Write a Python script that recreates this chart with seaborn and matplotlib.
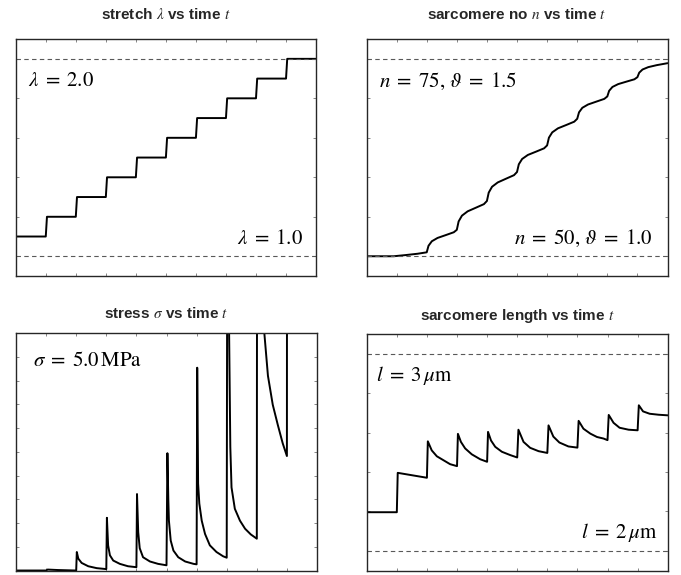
import matplotlib
matplotlib.use("Agg")
import matplotlib.pyplot as plt
import seaborn as sns

# stretch lambda vs time (stair steps)
stretch_t = [0, 0, 1.0, 1.04, 2.0, 2.04, 3.0, 3.04, 4.0, 4.04, 5.0, 5.04,
             6.0, 6.04, 7.0, 7.04, 8.0, 8.04, 9.0, 9.04, 10.0]
stretch_val = [1.05, 1.1, 1.1, 1.2, 1.2, 1.3, 1.3, 1.4, 1.4, 1.5, 1.5, 1.6,
               1.6, 1.7, 1.7, 1.8, 1.8, 1.9, 1.9, 2.0, 2.0]

# sarcomere number n vs time
sarc_no_t = [0, 0.9, 1.3, 1.7, 2.0,
             2.06, 2.17, 2.36, 2.64, 2.9, 3.0,
             3.06, 3.17, 3.36, 3.64, 3.9, 4.0,
             4.06, 4.17, 4.36, 4.64, 4.9, 5.0,
             5.06, 5.17, 5.36, 5.64, 5.9, 6.0,
             6.06, 6.17, 6.36, 6.64, 6.9, 7.0,
             7.06, 7.17, 7.36, 7.64, 7.9, 8.0,
             8.06, 8.17, 8.36, 8.64, 8.9, 9.0,
             9.06, 9.17, 9.36, 9.64, 9.9, 10.0]
sarc_no_val = [50.0, 50.0, 50.15, 50.32, 50.5,
               51.33, 51.9, 52.32, 52.69, 53.04, 53.35,
               54.41, 55.14, 55.69, 56.16, 56.6, 57.0,
               58.06, 58.8, 59.35, 59.83, 60.27, 60.67,
               61.65, 62.32, 62.83, 63.26, 63.67, 64.04,
               65.02, 65.69, 66.2, 66.63, 67.04, 67.41,
               68.23, 68.8, 69.22, 69.59, 69.93, 70.24,
               70.95, 71.44, 71.8, 72.12, 72.41, 72.68,
               73.25, 73.65, 73.95, 74.2, 74.38, 74.45]

# stress sigma (MPa) vs time, values above 5 run off the top
stress_t = [0, 1.0, 1.05, 1.4, 2.0,
            2.02, 2.07, 2.18, 2.4, 2.68,
            3.0, 3.02, 3.06, 3.12, 3.23, 3.45, 3.72,
            4.0, 4.02, 4.06, 4.11, 4.22, 4.45, 4.72,
            5.0, 5.03, 5.06, 5.08, 5.14, 5.23, 5.39, 5.62, 5.9,
            6.0, 6.02, 6.05, 6.09, 6.17, 6.28, 6.44, 6.66, 6.88,
            7.0, 7.02, 7.08, 7.12, 7.16, 7.27, 7.44, 7.61, 7.8,
            8.0, 8.02, 8.12, 8.25, 8.37, 8.53, 8.7, 8.86,
            9.0, 9.02, 9.3, 9.6, 10.0]
stress_val = [0.0, 0.0, 0.02, 0.01, 0.0,
              0.39, 0.25, 0.16, 0.09, 0.05,
              0.03, 1.11, 0.53, 0.32, 0.21, 0.14, 0.09,
              0.07, 1.61, 0.81, 0.47, 0.28, 0.19, 0.14,
              0.11, 2.47, 1.5, 1.05, 0.63, 0.42, 0.28, 0.19, 0.14,
              0.13, 4.27, 1.83, 1.41, 1.05, 0.77, 0.53, 0.39, 0.30,
              0.27, 8.0, 5.0, 2.6, 1.75, 1.3, 1.05, 0.88, 0.76,
              0.67, 16.0, 8.0, 5.0, 4.1, 3.49, 3.06, 2.68,
              2.41, 30.0, 16.0, 12.0, 10.0]

# sarcomere length (um) vs time
sarc_len_t = [0, 0, 1.0, 1.03, 2.0,
              2.03, 2.16, 2.33, 2.55, 2.77, 3.0,
              3.03, 3.13, 3.27, 3.49, 3.77, 4.0,
              4.03, 4.13, 4.27, 4.49, 4.77, 5.0,
              5.04, 5.21, 5.43, 5.71, 6.0,
              6.04, 6.2, 6.4, 6.7, 7.0,
              7.04, 7.2, 7.43, 7.65, 7.87, 8.0,
              8.04, 8.2, 8.4, 8.7, 9.0,
              9.04, 9.18, 9.4, 9.7, 10.0]
sarc_len_val = [2.06, 2.196, 2.196, 2.396, 2.371,
                2.556, 2.51, 2.48, 2.46, 2.44, 2.43,
                2.594, 2.553, 2.52, 2.49, 2.465, 2.452,
                2.604, 2.56, 2.528, 2.503, 2.486, 2.474,
                2.615, 2.553, 2.523, 2.506, 2.497,
                2.637, 2.58, 2.55, 2.53, 2.524,
                2.66, 2.62, 2.595, 2.578, 2.57, 2.562,
                2.69, 2.65, 2.625, 2.615, 2.612,
                2.739, 2.708, 2.696, 2.691, 2.688]

sns.set_theme(style="white")
plt.rcParams["font.family"] = ["Liberation Sans", "DejaVu Sans"]
plt.rcParams["mathtext.fontset"] = "stix"

fig = plt.figure(figsize=(6.81, 5.75), dpi=100)
ax_tl = fig.add_axes([0.0231, 0.520, 0.441, 0.412])
ax_tr = fig.add_axes([0.5382, 0.520, 0.442, 0.412])
ax_bl = fig.add_axes([0.0235, 0.0078, 0.442, 0.413])
ax_br = fig.add_axes([0.5385, 0.0078, 0.442, 0.411])


def style_axes(ax, ylim, yticks, title, pad):
    ax.set_xlim(0, 10)
    ax.set_ylim(*ylim)
    ax.set_xticks(range(0, 11))
    ax.set_yticks(yticks)
    ax.tick_params(direction="in", top=True, right=True, bottom=True, left=True,
                   labelbottom=False, labelleft=False, length=2.5, width=0.6,
                   color="0.45")
    for sp in ax.spines.values():
        sp.set_color("0.15")
        sp.set_linewidth(1.0)
    ax.set_xlabel("")
    ax.set_ylabel("")
    ax.set_title(title, fontsize=11, fontweight="bold", pad=pad)


line_kw = dict(color="black", linewidth=1.4, estimator=None, sort=False, legend=False)
dash_kw = dict(color="0.35", linewidth=0.8, linestyle=(0, (4, 3)))
txt_kw = dict(fontsize=15, color="black")

# top left: stretch
sns.lineplot(x=stretch_t, y=stretch_val, ax=ax_tl, **line_kw)
ax_tl.axhline(2.0, **dash_kw)
ax_tl.axhline(1.0, **dash_kw)
style_axes(ax_tl, (0.9, 2.1), [1.0, 1.2, 1.4, 1.6, 1.8, 2.0],
           r"stretch $\lambda$ vs time $t$", 14.5)
ax_tl.text(0.04, 0.827, r"$\lambda\; =\; 2.0$", transform=ax_tl.transAxes,
           ha="left", va="center", **txt_kw)
ax_tl.text(0.958, 0.16, r"$\lambda\; =\; 1.0$", transform=ax_tl.transAxes,
           ha="right", va="center", **txt_kw)

# top right: sarcomere number
sns.lineplot(x=sarc_no_t, y=sarc_no_val, ax=ax_tr, **line_kw)
ax_tr.axhline(75, **dash_kw)
ax_tr.axhline(50, **dash_kw)
style_axes(ax_tr, (47.5, 77.5), [50, 55, 60, 65, 70, 75],
           r"sarcomere no $n$ vs time $t$", 14.5)
ax_tr.text(0.042, 0.82, r"$n\; =\; 75,\, \vartheta\; =\; 1.5$", transform=ax_tr.transAxes,
           ha="left", va="center", **txt_kw)
ax_tr.text(0.95, 0.16, r"$n\; =\; 50,\, \vartheta\; =\; 1.0$", transform=ax_tr.transAxes,
           ha="right", va="center", **txt_kw)

# bottom left: stress
sns.lineplot(x=stress_t, y=stress_val, ax=ax_bl, **line_kw)
style_axes(ax_bl, (0, 5), [0.5 * i for i in range(1, 10)],
           r"stress $\sigma$ vs time $t$", 10.5)
ax_bl.text(0.055, 0.886, r"$\sigma\; =\; 5.0\,\mathrm{MPa}$", transform=ax_bl.transAxes,
           ha="left", va="center", **txt_kw)

# bottom right: sarcomere length
sns.lineplot(x=sarc_len_t, y=sarc_len_val, ax=ax_br, **line_kw)
ax_br.axhline(3.0, **dash_kw)
ax_br.axhline(2.0, **dash_kw)
style_axes(ax_br, (1.9, 3.1), [2.0, 2.2, 2.4, 2.6, 2.8, 3.0],
           r"sarcomere length vs time $t$", 10.5)
ax_br.text(0.031, 0.824, r"$l\; =\; 3\,\mu\mathrm{m}$", transform=ax_br.transAxes,
           ha="left", va="center", **txt_kw)
ax_br.text(0.967, 0.159, r"$l\; =\; 2\,\mu\mathrm{m}$", transform=ax_br.transAxes,
           ha="right", va="center", **txt_kw)

fig.savefig("out.png", dpi=100)
